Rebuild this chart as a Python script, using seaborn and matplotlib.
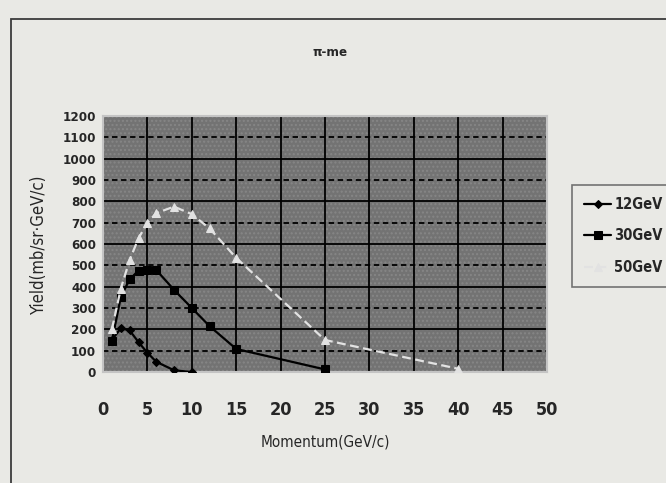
import matplotlib
matplotlib.use("Agg")
import matplotlib.pyplot as plt
from matplotlib.patches import Rectangle
import seaborn as sns
import pandas as pd

# momentum points (GeV/c) and yields
p_12 = [1, 2, 3, 4, 5, 6, 8, 10]
y_12 = [150, 205, 195, 140, 90, 48, 8, 0]

p_30 = [1, 2, 3, 4, 5, 6, 8, 10, 12, 15, 25]
y_30 = [145, 350, 435, 475, 480, 478, 385, 300, 215, 108, 12]

p_50 = [1, 2, 3, 4, 5, 6, 8, 10, 12, 15, 25, 40]
y_50 = [200, 390, 525, 627, 700, 745, 775, 740, 673, 535, 150, 15]

x_ticks = [0, 5, 10, 15, 20, 25, 30, 35, 40, 45, 50]
y_ticks = list(range(0, 1201, 100))

sns.set_style("white")
plt.rcParams["font.family"] = ["DejaVu Sans"]
plt.rcParams["font.stretch"] = "condensed"
plt.rcParams["font.weight"] = "bold"

bg = "#e9e9e5"
fig = plt.figure(figsize=(6.66, 4.83), dpi=100, facecolor=bg)
ax = fig.add_axes([103 / 666, 1 - 372 / 483, 444 / 666, 256 / 483])
ax.set_facecolor("#737373")

# texture of the plot area
ax.add_patch(Rectangle((0, 0), 1, 1, transform=ax.transAxes, facecolor="none",
                       edgecolor="#868686", hatch="....", lw=0, zorder=0.5))

series = [
    ("12GeV", p_12, y_12, "black", "D", 4.5, "-"),
    ("30GeV", p_30, y_30, "black", "s", 6, "-"),
    ("50GeV", p_50, y_50, "#e2e2e2", "^", 6, (0, (4, 2))),
]
for name, px, py, col, mk, ms, ls in series:
    df = pd.DataFrame({"p": px, "y": py})
    sns.lineplot(data=df, x="p", y="y", ax=ax, color=col, marker=mk, markersize=ms,
                 markeredgecolor=col, linewidth=1.6, linestyle=ls, label=name, zorder=3)

ax.set_xlim(0, 50)
ax.set_ylim(0, 1200)
ax.set_xticks(x_ticks)
ax.set_yticks(y_ticks)
ax.tick_params(axis="x", length=0, pad=21, labelsize=13)
ax.tick_params(axis="y", length=0, pad=5, labelsize=9.5)

ax.grid(True, color="black", linewidth=1.3)
for i, gl in enumerate(ax.get_ygridlines()):
    if i % 2 == 1:
        gl.set_linestyle((0, (3, 2)))
ax.set_axisbelow(True)
for sp in ax.spines.values():
    sp.set_color("#c4c4c4")
    sp.set_linewidth(1.5)

ax.set_xlabel("Momentum(GeV/c)", fontsize=11, labelpad=11)
ax.set_ylabel("Yield(mb/sr·GeV/c)", fontsize=12)
ax.yaxis.set_label_coords(-0.124, 0.5)

fig.text(0.495, 1 - 53 / 483, "π-me", ha="center", va="center", fontsize=9.5)

handles, labels = ax.get_legend_handles_labels()
ax.get_legend().remove()
leg = fig.legend(handles, labels, loc="upper left", bbox_to_anchor=(572 / 666, 1 - 185 / 483),
                 frameon=True, fancybox=False, facecolor=bg, edgecolor="#555555",
                 fontsize=10.5, handlelength=1.9, handletextpad=0.2, labelspacing=1.15,
                 borderpad=0.8, borderaxespad=0)
leg.get_frame().set_linewidth(1.2)

# outer frame of the chart
fig.patches.append(Rectangle((11 / 666, -0.1), 1.2, 1 - 19 / 483 + 0.1, transform=fig.transFigure,
                             fill=False, edgecolor="#3c3c3c", lw=1.3))

fig.savefig("out.png", dpi=100, facecolor=bg)
